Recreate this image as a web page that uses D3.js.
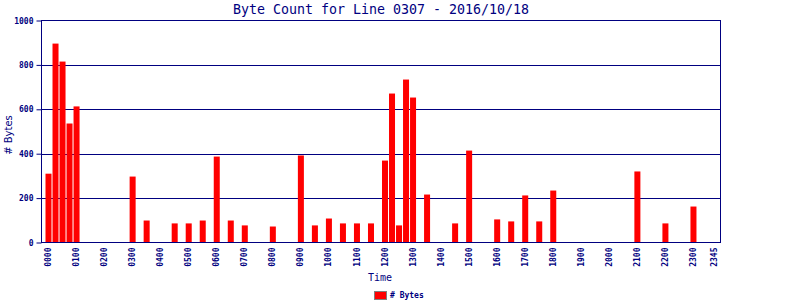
<!DOCTYPE html>
<html><head><meta charset="utf-8">
<script src="https://cdn.jsdelivr.net/npm/d3@7"></script>
<style>body{margin:0;background:#fff}svg{display:block}</style>
</head><body>
<script>
// Data: 15-minute slots 0000..2345 with byte counts (0 = no bar)
const slotLabels = [];
for (let h = 0; h < 24; h++) for (const m of ["00","15","30","45"]) slotLabels.push(String(h).padStart(2,"0") + m);
const barTimes  = ["0000","0015","0030","0045","0100","0300","0330","0430","0500","0530","0600","0630","0700",
                   "0800","0900","0930","1000","1030","1100","1130","1200","1215","1230","1245","1300","1330",
                   "1430","1500","1600","1630","1700","1730","1800","2100","2200","2300"];
const barValues = [310,896,815,536,613,297,99,86,86,99,387,99,77,
                   72,392,77,108,86,86,86,369,671,77,734,653,216,
                   86,414,104,95,212,95,234,320,86,162];
const tickLabels = ["0000","0100","0200","0300","0400","0500","0600","0700","0800","0900","1000","1100",
                    "1200","1300","1400","1500","1600","1700","1800","1900","2000","2100","2200","2300","2345"];
const yTicks = [0,200,400,600,800,1000];
const title = "Byte Count for Line 0307 - 2016/10/18";

const W = 800, H = 300, L = 41.5, R = 720.5, T = 20.5, B = 242.5;
const navy = "#000080";
const svg = d3.select("body").append("svg").attr("width", W).attr("height", H);

const x = d3.scaleBand().domain(slotLabels).range([45.5, 717.5]).paddingInner(1/7).paddingOuter(0);
const y = d3.scaleLinear().domain([0, 1000]).range([B, T]);

// grid lines
svg.append("g").selectAll("line").data(yTicks.filter(d => d > 0 && d < 1000)).join("line")
  .attr("x1", L).attr("x2", R).attr("y1", d => Math.round(y(d)) + 0.5).attr("y2", d => Math.round(y(d)) + 0.5)
  .attr("stroke", navy).attr("stroke-width", 1);

// bars
const data = barTimes.map((t, i) => ({t, v: barValues[i]}));
svg.append("g").selectAll("rect").data(data).join("rect")
  .attr("x", d => x(d.t)).attr("width", x.bandwidth())
  .attr("y", d => y(d.v)).attr("height", d => B - y(d.v))
  .attr("fill", "#ff0000");

// frame
svg.append("rect").attr("x", L).attr("y", T).attr("width", R - L).attr("height", B - T)
  .attr("fill", "none").attr("stroke", navy).attr("stroke-width", 1);

// y axis
const yAxis = svg.append("g").attr("transform", `translate(${L},0)`)
  .call(d3.axisLeft(y).tickValues(yTicks).tickSize(5).tickPadding(3).tickFormat(d3.format("d")));
yAxis.select(".domain").remove();
yAxis.selectAll("line").attr("stroke", navy);
yAxis.selectAll("text").attr("fill", navy).style("font-family", "DejaVu Sans Mono").style("font-size", "8px").style("font-weight", "bold");

// x axis
const xAxis = svg.append("g").attr("transform", `translate(0,${B})`)
  .call(d3.axisBottom(x).tickValues(tickLabels).tickSize(0).tickPadding(0));
xAxis.select(".domain").remove();
xAxis.selectAll("text")
  .attr("fill", navy).style("font-family", "DejaVu Sans Mono").style("font-size", "8px").style("font-weight", "bold")
  .attr("transform", "rotate(-90)").attr("text-anchor", "end").attr("x", -5).attr("y", 0).attr("dy", "0.32em");

// title
svg.append("text").attr("x", (L + R) / 2).attr("y", 13.5).attr("text-anchor", "middle")
  .attr("fill", navy).style("font-family", "DejaVu Sans Mono").style("font-size", "13.3px").text(title);

// axis titles
svg.append("text").attr("x", (L + R) / 2 - 1).attr("y", 281).attr("text-anchor", "middle")
  .attr("fill", navy).style("font-family", "DejaVu Sans Mono").style("font-size", "10px").text("Time");
svg.append("text").attr("transform", `translate(12,${135}) rotate(-90)`).attr("text-anchor", "middle")
  .attr("fill", navy).style("font-family", "DejaVu Sans").style("font-size", "10px").text("# Bytes");

// legend
svg.append("rect").attr("x", 374.5).attr("y", 291.5).attr("width", 12).attr("height", 8)
  .attr("fill", "#ff0000").attr("stroke", "#808080").attr("stroke-width", 1);
svg.append("text").attr("x", 390).attr("y", 298).attr("fill", navy)
  .style("font-family", "DejaVu Sans Mono").style("font-size", "8px").style("font-weight", "bold").text("# Bytes");
</script>
</body></html>
